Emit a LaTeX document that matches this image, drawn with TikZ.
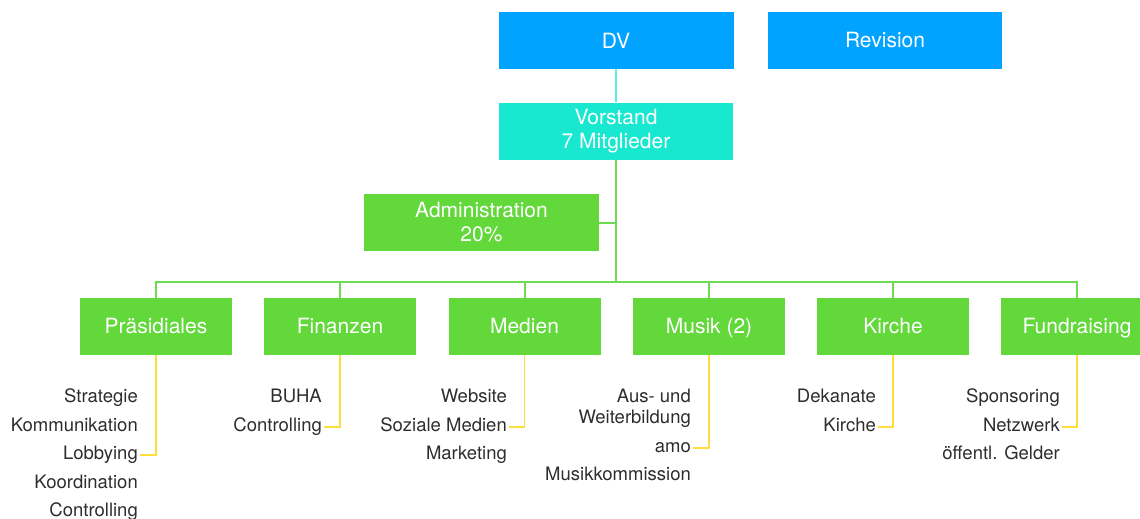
\documentclass[tikz,border=0pt]{standalone}
\usepackage{fontspec}
\setmainfont{TeX Gyre Heros}
\usetikzlibrary{positioning}
\definecolor{dvblue}{RGB}{0,163,255}
\definecolor{vorcyan}{RGB}{24,232,208}
\definecolor{unitgreen}{RGB}{98,216,58}
\definecolor{busgreen}{RGB}{110,220,80}
\definecolor{subyellow}{RGB}{255,222,60}
\definecolor{textgray}{RGB}{45,45,45}

\begin{document}
\begin{tikzpicture}[x=1pt,y=-1pt,
  box/.style={fill=#1,text=white,minimum height=57pt,inner sep=0pt,align=center,font=\fontsize{21}{24}\selectfont},
  unit/.style={box=unitgreen,minimum width=152pt,text height=17pt,text depth=3pt},
  item/.style={anchor=east,inner sep=2pt,text height=13pt,text depth=4pt,text=textgray,font=\fontsize{18.5}{21}\selectfont},
  bus/.style={draw=busgreen,line width=2pt},
  sub/.style={draw=subyellow,line width=1.4pt}]
  \useasboundingbox (0,0) rectangle (1140,519);

  \node[box=dvblue,minimum width=235pt] (dv) at (616,40.5) {DV};
  \node[box=dvblue,minimum width=234pt] (rev) at (885,40.5) {Revision};
  \node[box=vorcyan,minimum width=234pt] (vor) at (616,131) {Vorstand\\7 Mitglieder};
  \node[box=unitgreen,minimum width=235pt] (adm) at (481.5,222.5) {Administration\\20\%};

  \node[unit] (prae) at (156,326.5) {Präsidiales};
  \node[unit] (fin) at (340,326.5) {Finanzen};
  \node[unit] (med) at (524.5,326.5) {Medien};
  \node[unit] (mus) at (709,326.5) {Musik (2)};
  \node[unit] (kir) at (893,326.5) {Kirche};
  \node[unit] (fund) at (1077,326.5) {Fundraising};

  \coordinate (bus) at (616,282);
  \draw[draw=vorcyan!70,line width=2pt] (dv.south) -- (vor.north);
  \draw[bus] (vor.south) -- (bus);
  \draw[bus] (adm.east) -- (adm.east -| bus);
  \draw[bus] (prae.north) |- (bus) -| (fund.north);
  \foreach \u in {fin,med,mus,kir} \draw[bus] (\u.north) -- (\u.north |- bus);

  \node[item] (p1) at (140,398) {Strategie};\node[item] (p2) at (140,427) {Kommunikation};\node[item] (p3) at (140,455) {Lobbying};
  \node[item] (p4) at (140,484) {Koordination};\node[item] (p5) at (140,512) {Controlling};
  \node[item] (f1) at (324,398) {BUHA};\node[item] (f2) at (324,427) {Controlling};
  \node[item] (m1) at (509,398) {Website};\node[item] (m2) at (509,427) {Soziale Medien};\node[item] (m3) at (509,455) {Marketing};
  \node[item,align=right,text height=,text depth=] (u1) at (693,408) {Aus- und\\Weiterbildung};\node[item] (u2) at (693,448) {amo};\node[item] (u3) at (693,476) {Musikkommission};
  \node[item] (k1) at (878,398) {Dekanate};\node[item] (k2) at (878,427) {Kirche};
  \node[item] (g1) at (1062,398) {Sponsoring};\node[item] (g2) at (1062,427) {Netzwerk};\node[item] (g3) at (1062,455) {öffentl. Gelder};

  \draw[sub] (prae.south) |- (p3.east);
  \draw[sub] (fin.south) |- (f2.east);
  \draw[sub] (med.south) |- (m2.east);
  \draw[sub] (mus.south) |- (u2.east);
  \draw[sub] (kir.south) |- (k2.east);
  \draw[sub] (fund.south) |- (g2.east);
\end{tikzpicture}
\end{document}
